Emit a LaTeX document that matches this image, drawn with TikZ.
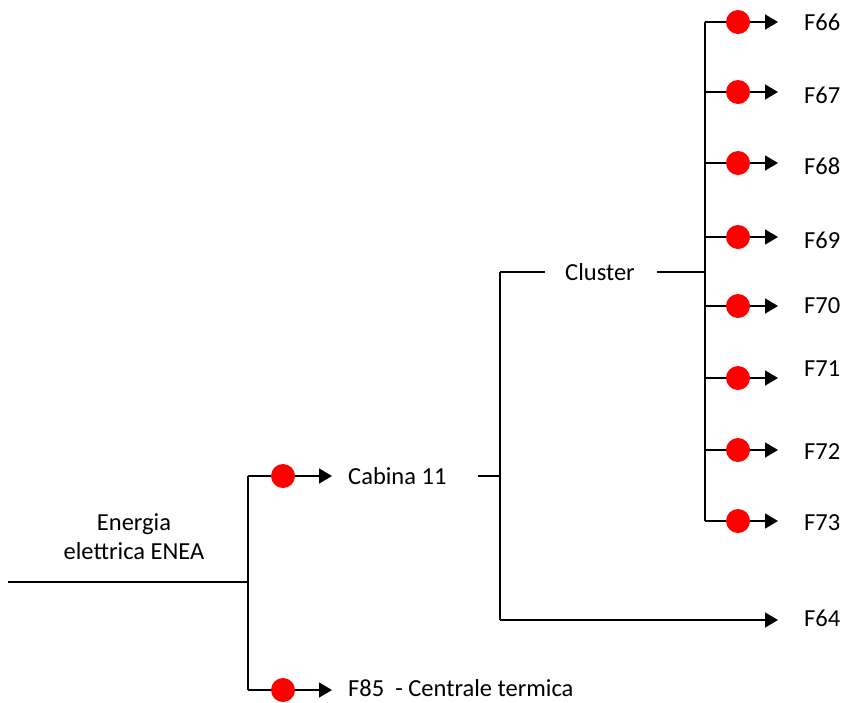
\documentclass[tikz,border=0pt]{standalone}
\usepackage{fontspec}
\setmainfont{Carlito}
\usetikzlibrary{arrows.meta}
\tikzset{
  wire/.style={line width=1.5pt, black},
  arr/.style={wire, -{Triangle[length=13pt,width=15pt]}},
  dot/.style={circle, fill=red, draw=none, minimum size=24pt, inner sep=0pt},
  txt/.style={inner sep=0pt, font=\fontsize{24.5}{29}\selectfont},
  lbl/.style={txt, anchor=west},
}
\begin{document}
\begin{tikzpicture}[x=1pt,y=-1pt]
\useasboundingbox (0,0) rectangle (842,702);
% main source
\node[txt, align=center] (enea) at (134,537) {Energia\\elettrica ENEA};
\coordinate (src) at (8,582);
\coordinate (j1) at (248,582);
\coordinate (j1t) at (248,476);
\coordinate (j1b) at (248,690);
\draw[wire] (src) -- (j1);
\draw[wire] (j1t) -- (j1b);
% Cabina 11 branch
\coordinate (a1) at (332,476);
\draw[arr] (j1t) -- (a1);
\node[dot] (d1) at (283,476) {};
\node[lbl] (cab) at (348,476) {Cabina 11};
% F85 branch
\coordinate (a2) at (332,690);
\draw[arr] (j1b) -- (a2);
\node[dot] (d2) at (283,690) {};
\node[lbl] (f85) at (348,688) {F85\ \ - Centrale termica};
% from Cabina 11
\coordinate (c1) at (478,476);
\coordinate (j2) at (500,476);
\coordinate (j2t) at (500,272);
\coordinate (j2b) at (500,620);
\draw[wire] (c1) -- (j2);
\draw[wire] (j2t) -- (j2b);
\node[txt] (clu) at (600,272) {Cluster};
\coordinate (cl1) at (545,272);
\coordinate (cl2) at (657,272);
\coordinate (j3) at (705,272);
\draw[wire] (j2t) -- (cl1);
\draw[wire] (cl2) -- (j3);
% F64
\coordinate (a64) at (778,620);
\draw[arr] (j2b) -- (a64);
\node[lbl] (f64) at (804,618) {F64};
% cluster branches
\coordinate (j3t) at (705,22);
\coordinate (j3b) at (705,521);
\draw[wire] (j3t) -- (j3b);
\foreach \y/\ly/\t in {22/22/F66, 92/95/F67, 163/166/F68, 237/240/F69, 306/306/F70, 378/369/F71, 450/452/F72, 521/523/F73}{
  \coordinate (b\t) at (705,\y);
  \coordinate (e\t) at (778,\y);
  \draw[arr] (b\t) -- (e\t);
  \node[dot] (d\t) at (738,\y) {};
  \node[lbl] (l\t) at (804,\ly) {\t};
}
\end{tikzpicture}
\end{document}
